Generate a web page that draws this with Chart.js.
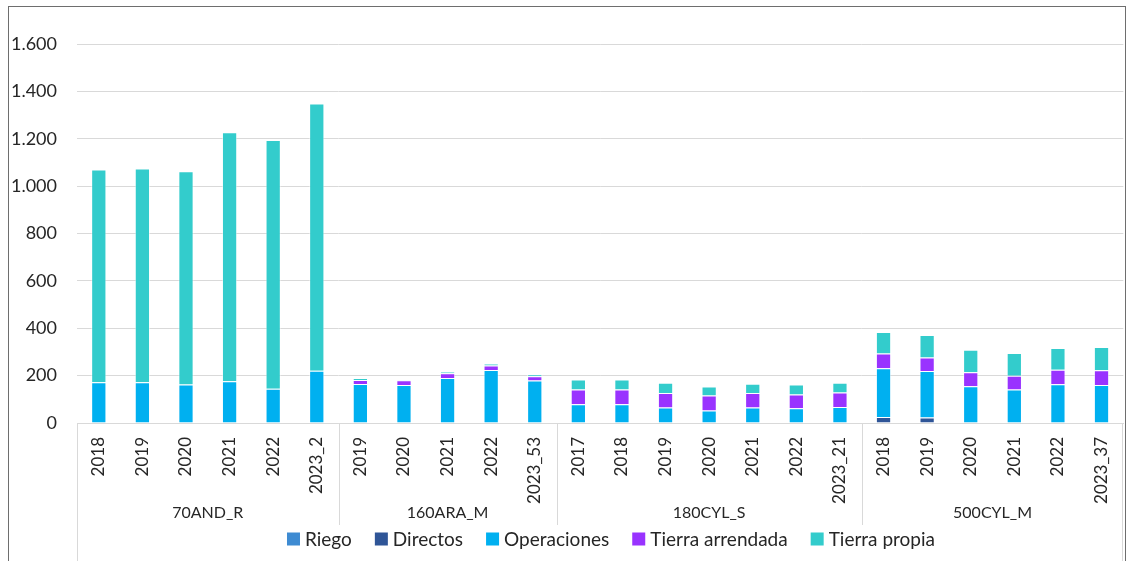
<!DOCTYPE html>
<html>
<head>
<meta charset="utf-8">
<script src="https://cdn.jsdelivr.net/npm/chart.js@4.4.1/dist/chart.umd.min.js"></script>
<style>
  html, body { margin: 0; padding: 0; background: #fff; }
  #wrap { width: 1128px; height: 561px; }
</style>
</head>
<body>
<div id="wrap"><canvas id="costChart" width="1128" height="561"></canvas></div>
<script>
// años / campañas por explotación
const categories = ['2018', '2019', '2020', '2021', '2022', '2023_2',
  '2019', '2020', '2021', '2022', '2023_53',
  '2017', '2018', '2019', '2020', '2021', '2022', '2023_21',
  '2018', '2019', '2020', '2021', '2022', '2023_37'];
const groups = ['70AND_R', '160ARA_M', '180CYL_S', '500CYL_M'];
const groupSizes = [6, 5, 7, 6];

const riego = [0, 0, 0, 0, 0, 0, 0, 0, 0, 0, 0, 0, 0, 0, 0, 0, 0, 0, 0, 0, 0, 0, 0, 0];
const directos = [0, 0, 0, 0, 0, 0, 0, 0, 0, 0, 0, 0, 0, 0, 0, 0, 0, 0, 25, 23, 0, 0, 0, 0];
const operaciones = [172, 172, 163, 176, 145, 221, 165, 160, 190, 224, 179,
  79, 79, 65, 53, 65, 62, 68, 206, 197, 155, 141, 164, 160];
const tierraArrendada = [0, 0, 0, 0, 0, 0, 17, 20, 20, 19, 18,
  62, 62, 62, 63, 62, 58, 61, 62, 57, 59, 59, 61, 63];
const tierraPropia = [898, 902, 900, 1051, 1050, 1128, 8, 3, 7, 7, 9,
  43, 43, 43, 38, 39, 43, 41, 91, 95, 95, 95, 92, 98];

const yTicks = [0, 200, 400, 600, 800, 1000, 1200, 1400, 1600];

const FONT = 'Lato, "Open Sans", sans-serif';
const TEXT = '#262626';

function ds(label, data, color) {
  return {
    label: label,
    data: data,
    backgroundColor: color,
    borderColor: 'rgba(255,255,255,0.5)',
    borderWidth: 1,
    barPercentage: 0.35,
    categoryPercentage: 1
  };
}

// cajas, separadores de grupo, etiquetas de grupo y leyenda
const decoPlugin = {
  id: 'deco',
  afterDraw(chart) {
    const ctx = chart.ctx;
    const x = chart.scales.x;
    const area = chart.chartArea;
    ctx.save();

    // marco exterior
    ctx.strokeStyle = '#6e6e6e';
    ctx.lineWidth = 1;
    ctx.strokeRect(8.5, 6.5, 1117, 600);

    // caja del eje x
    ctx.strokeStyle = '#d9d9d9';
    ctx.beginPath();
    ctx.moveTo(Math.round(area.left) + 0.5, area.bottom);
    ctx.lineTo(Math.round(area.left) + 0.5, 561);
    ctx.moveTo(Math.round(area.right) - 0.5, area.bottom);
    ctx.lineTo(Math.round(area.right) - 0.5, 561);
    let idx = 0;
    const centers = [];
    groupSizes.forEach((n, g) => {
      const a = idx, b = idx + n - 1;
      centers.push((x.getPixelForValue(a) + x.getPixelForValue(b)) / 2);
      idx += n;
      if (g < groupSizes.length - 1) {
        const sx = Math.round((x.getPixelForValue(b) + x.getPixelForValue(b + 1)) / 2) + 0.5;
        ctx.moveTo(sx, area.bottom);
        ctx.lineTo(sx, 525);
      }
    });
    ctx.stroke();

    // nombres de grupo
    ctx.fillStyle = TEXT;
    ctx.font = '16px ' + FONT;
    ctx.textAlign = 'center';
    ctx.textBaseline = 'middle';
    groups.forEach((g, i) => ctx.fillText(g, centers[i], 513));

    // leyenda
    ctx.font = '19px ' + FONT;
    ctx.textAlign = 'left';
    const box = 13, gapBox = 5, gapItem = 23;
    const items = chart.data.datasets.map(d => ({
      label: d.label, color: d.backgroundColor, w: box + gapBox + ctx.measureText(d.label).width
    }));
    const total = items.reduce((s, it) => s + it.w, 0) + gapItem * (items.length - 1);
    let lx = 611 - total / 2;
    const ly = 539;
    items.forEach(it => {
      ctx.fillStyle = it.color;
      ctx.fillRect(lx, ly - box / 2, box, box);
      ctx.fillStyle = TEXT;
      ctx.fillText(it.label, lx + box + gapBox, ly + 1);
      lx += it.w + gapItem;
    });
    ctx.restore();
  }
};

new Chart(document.getElementById('costChart'), {
  type: 'bar',
  data: {
    labels: categories,
    datasets: [
      ds('Riego', riego, '#3e8bd2'),
      ds('Directos', directos, '#2f5597'),
      ds('Operaciones', operaciones, '#00b0f0'),
      ds('Tierra arrendada', tierraArrendada, '#9933ff'),
      ds('Tierra propia', tierraPropia, '#33cccc')
    ]
  },
  options: {
    responsive: false,
    animation: false,
    layout: { padding: { top: 44, right: 4, left: 0, bottom: 0 } },
    plugins: {
      legend: { display: false },
      tooltip: { enabled: false }
    },
    scales: {
      x: {
        stacked: true,
        afterFit(scale) { scale.height = 138; },
        grid: { display: false },
        border: { display: true, color: '#d9d9d9' },
        ticks: {
          minRotation: 90,
          maxRotation: 90,
          autoSkip: false,
          padding: 6,
          color: TEXT,
          font: { family: FONT, size: 17 }
        }
      },
      y: {
        stacked: true,
        min: 0,
        max: 1600,
        afterFit(scale) { scale.width = 77; },
        afterBuildTicks(scale) { scale.ticks = yTicks.map(v => ({ value: v })); },
        border: { display: false },
        grid: { color: '#d9d9d9', drawTicks: false },
        ticks: {
          padding: 20,
          color: TEXT,
          font: { family: FONT, size: 18 },
          callback: v => v.toLocaleString('de-DE')
        }
      }
    }
  },
  plugins: [decoPlugin]
});
</script>
</body>
</html>
